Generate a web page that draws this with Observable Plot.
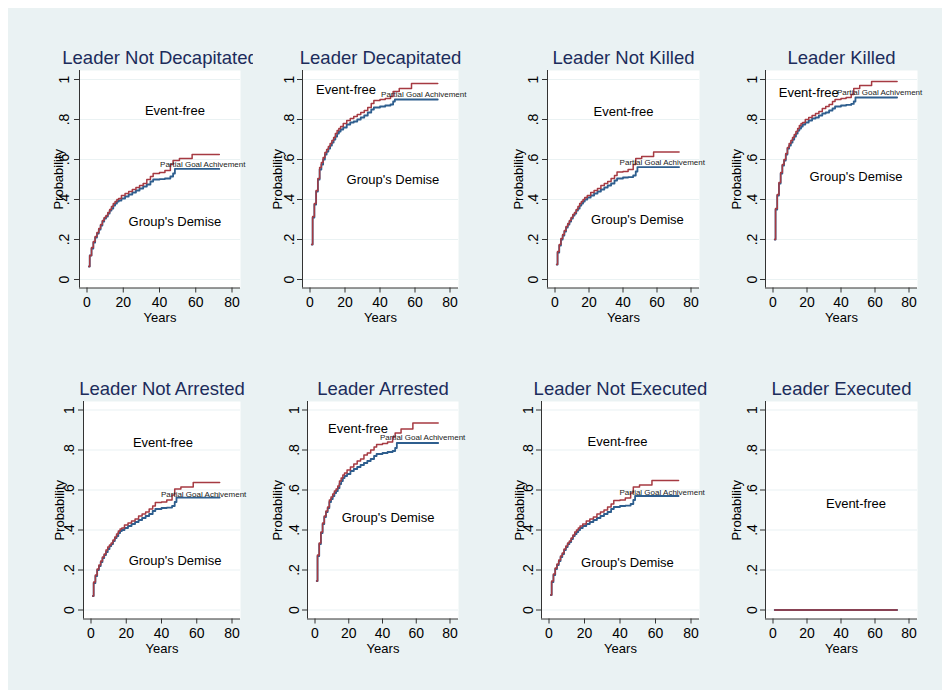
<!DOCTYPE html>
<html><head><meta charset="utf-8">
<script src="https://cdn.jsdelivr.net/npm/d3@7"></script>
<script src="https://cdn.jsdelivr.net/npm/@observablehq/plot@0.6"></script>
<style>
html,body{margin:0;padding:0;background:#fff;width:948px;height:694px;overflow:hidden;}
#bg{position:absolute;left:8px;top:8px;width:934px;height:682px;background:#eaf2f3;}
.panel{position:absolute;overflow:hidden;}
.panel svg{max-width:none;}
</style></head><body>
<div id="bg"></div>
<div id="chart"></div>
<script>
// ---------- data ----------
const titles = ["Leader Not Decapitated","Leader Decapitated","Leader Not Killed","Leader Killed",
                "Leader Not Arrested","Leader Arrested","Leader Not Executed","Leader Executed"];
const xTicks = [0,20,40,60,80];
const yTicks = [0,0.2,0.4,0.6,0.8,1];
const yTickLabels = ["0",".2",".4",".6",".8","1"];
const years = [1,1.5,2.5,3.5,4.5,5.5,6.5,7.5,8.5,9.5,10.5,11.5,12.5,13.5,14.5,15.5,16.5,17.5,19,21,23,25,27,29,31,33,35,36.5,40,43,46,47.5,48.5,51,58,73];

// cumulative probability of group's demise (blue) and demise + partial goal achievement (red)
const demiseNotDecap = [.065,.12,.155,.185,.21,.23,.25,.27,.29,.305,.315,.33,.345,.355,.37,.38,.39,.395,.405,.415,.425,.435,.445,.455,.465,.475,.49,.50,.502,.505,.515,.53,.553,.553,.553,.553];
const totalNotDecap  = [.065,.12,.16,.19,.215,.235,.255,.275,.295,.31,.32,.335,.35,.365,.38,.39,.40,.405,.42,.43,.44,.45,.46,.47,.48,.50,.515,.53,.535,.545,.575,.595,.595,.605,.625,.625];
const demiseDecap = [.175,.31,.375,.44,.50,.55,.575,.60,.625,.64,.655,.67,.685,.70,.715,.73,.74,.75,.76,.775,.785,.79,.80,.81,.82,.835,.85,.86,.865,.87,.875,.89,.90,.90,.90,.90];
const totalDecap  = [.175,.315,.38,.445,.505,.56,.585,.61,.635,.65,.665,.68,.695,.71,.73,.745,.755,.765,.78,.795,.805,.815,.825,.835,.845,.86,.88,.895,.90,.905,.915,.94,.94,.955,.98,.98];
const demiseNotKilled = [.075,.135,.17,.20,.22,.24,.26,.275,.29,.305,.32,.33,.345,.355,.37,.38,.39,.40,.41,.42,.43,.44,.45,.46,.47,.48,.495,.505,.51,.512,.52,.54,.562,.562,.562,.562];
const totalNotKilled  = [.075,.14,.175,.205,.225,.245,.265,.28,.295,.31,.325,.335,.35,.365,.38,.39,.40,.41,.42,.435,.445,.455,.47,.48,.49,.505,.52,.537,.54,.55,.575,.605,.605,.615,.637,.637];
const demiseKilled = [.20,.35,.42,.48,.53,.57,.595,.625,.655,.67,.685,.70,.715,.73,.745,.755,.765,.775,.785,.795,.805,.81,.82,.83,.835,.845,.855,.865,.87,.873,.878,.89,.91,.91,.91,.91];
const totalKilled  = [.20,.355,.425,.485,.535,.575,.60,.63,.66,.68,.695,.71,.725,.74,.755,.77,.78,.785,.80,.81,.82,.83,.84,.855,.865,.875,.89,.90,.905,.91,.925,.955,.955,.97,.99,.99];
const demiseNotArrested = [.07,.135,.17,.20,.22,.24,.26,.275,.29,.305,.32,.33,.345,.36,.37,.385,.395,.40,.41,.42,.43,.44,.45,.46,.47,.48,.495,.505,.51,.512,.52,.54,.562,.562,.562,.562];
const totalNotArrested  = [.07,.14,.175,.205,.225,.245,.265,.28,.30,.315,.325,.335,.35,.365,.38,.395,.405,.41,.425,.435,.445,.455,.47,.48,.49,.505,.52,.537,.54,.55,.575,.605,.605,.615,.637,.637];
const demiseArrested = [.145,.27,.33,.385,.43,.465,.49,.51,.54,.555,.57,.585,.595,.61,.63,.645,.66,.67,.68,.695,.705,.715,.725,.735,.745,.755,.77,.78,.785,.79,.795,.81,.835,.835,.835,.835];
const totalArrested  = [.145,.275,.335,.39,.435,.47,.495,.515,.55,.565,.58,.595,.605,.62,.645,.66,.675,.685,.70,.715,.73,.745,.755,.775,.785,.80,.815,.828,.832,.84,.865,.885,.885,.905,.935,.935];
const demiseNotExecuted = [.075,.14,.175,.205,.225,.245,.265,.28,.30,.315,.33,.34,.355,.37,.38,.39,.40,.41,.42,.43,.44,.45,.46,.47,.48,.49,.505,.515,.52,.522,.53,.55,.57,.57,.57,.57];
const totalNotExecuted  = [.075,.145,.18,.21,.23,.25,.27,.285,.305,.32,.335,.345,.36,.375,.39,.40,.41,.42,.43,.445,.455,.465,.48,.49,.50,.515,.53,.548,.55,.56,.585,.615,.615,.625,.648,.648];
const demiseExecuted = [0,0,0,0,0,0,0,0,0,0,0,0,0,0,0,0,0,0,0,0,0,0,0,0,0,0,0,0,0,0,0,0,0,0,0,0];
const totalExecuted  = [0,0,0,0,0,0,0,0,0,0,0,0,0,0,0,0,0,0,0,0,0,0,0,0,0,0,0,0,0,0,0,0,0,0,0,0];

const demiseSeries = [demiseNotDecap,demiseDecap,demiseNotKilled,demiseKilled,demiseNotArrested,demiseArrested,demiseNotExecuted,demiseExecuted];
const totalSeries  = [totalNotDecap,totalDecap,totalNotKilled,totalKilled,totalNotArrested,totalArrested,totalNotExecuted,totalExecuted];

// annotation anchors (years, probability)
const eventFreeAt = [[48.5,.845],[20.6,.95],[40.3,.84],[21,.935],[40.8,.835],[25.5,.905],[38.6,.84],[48.8,.53]];
const demiseAt    = [[48.5,.29],[47.4,.5],[48.5,.30],[48.8,.515],[47.7,.245],[43.3,.46],[44.2,.235],null];
const partialAt   = [[40.3,.575],[40.6,.925],[38,.585],[37.6,.935],[39.7,.58],[38.5,.865],[39.7,.59],null];

// ---------- layout (pixels) ----------
const rows = [{wt:70, wb:287.5, y1:79, y0:279},{wt:400.5, wb:618, y1:409, y0:609}];
const cols = [
  {wl:79, wr:240, prob:16.5, tick:10.5},
  {wl:302, wr:458, prob:21, tick:8.5},
  {wl:547, wr:699, prob:25, tick:9.5},
  {wl:765, wr:917, prob:24.5, tick:8.5},
  {wl:83, wr:240, prob:20, tick:9.5},
  {wl:307, wr:458, prob:26, tick:9},
  {wl:541, wr:699, prob:18, tick:9},
  {wl:765, wr:917, prob:24.5, tick:8.5}
];
const FONT = "'Liberation Sans', Arial, Helvetica, sans-serif";
const NAVY = "#1c2c5b", BLUE = "#2e5e8e", RED = "#a63a42", GRID = "#eaf2f3", AXIS = "#333";

const chart = document.getElementById("chart");
titles.forEach((title, i) => {
  const c = cols[i], r = rows[i < 4 ? 0 : 1];
  const mL = 60, mR = 13, mT = 45, mB = 45;
  const W = c.wr - c.wl + mL + mR, H = r.wb - r.wt + mT + mB;
  const x0 = c.wl + 7.5, x80 = c.wr - 8.5;
  const kx = (x80 - x0) / 80;
  const xmin = -(x0 - c.wl) / kx, xmax = 80 + (c.wr - x80) / kx;
  const ky = r.y0 - r.y1;
  const ymin = -(r.wb - r.y0) / ky, ymax = 1 + (r.y1 - r.wt) / ky;

  const demise = years.map((t, j) => ({t, v: demiseSeries[i][j]}));
  const total = years.map((t, j) => ({t, v: totalSeries[i][j]}));

  const marks = [
    Plot.frame({fill: "white", stroke: "none"}),
    Plot.ruleY(yTicks, {stroke: GRID, strokeWidth: 1.2}),
    Plot.ruleX([xmin], {stroke: AXIS, strokeWidth: 1}),
    Plot.ruleY([ymin], {stroke: AXIS, strokeWidth: 1}),
    Plot.axisX({ticks: xTicks, tickSize: 5, tickPadding: 4, fontSize: 14, label: null, stroke: AXIS}),
    Plot.axisY({ticks: yTicks, tickSize: 5, tickFormat: () => "", label: null, stroke: AXIS}),
    Plot.text(yTicks, {y: d => d, text: yTickLabels, frameAnchor: "left", dx: -c.tick, rotate: -90,
      textAnchor: "middle", lineAnchor: "bottom", fontSize: 14, fill: "#000"}),
    Plot.text(["Probability"], {frameAnchor: "left", dx: -c.prob, rotate: -90, textAnchor: "middle",
      lineAnchor: "bottom", fontSize: 13, fill: "#000"}),
    Plot.text(["Years"], {frameAnchor: "bottom", dy: 33.5, textAnchor: "middle", lineAnchor: "bottom",
      fontSize: 13, fill: "#000"}),
    Plot.text([title], {frameAnchor: "top", dy: -6.5, textAnchor: "middle", lineAnchor: "bottom",
      fontSize: 18.5, fill: NAVY}),
    Plot.line(demise, {x: "t", y: "v", curve: "step-after", stroke: BLUE, strokeWidth: 1.8}),
    Plot.line(total, {x: "t", y: "v", curve: "step-after", stroke: RED, strokeWidth: 1.5}),
    Plot.text([eventFreeAt[i]], {x: d => d[0], y: d => d[1], text: () => "Event-free", fontSize: 13,
      textAnchor: "middle", lineAnchor: "middle", fill: "#000"})
  ];
  if (demiseAt[i]) marks.push(Plot.text([demiseAt[i]], {x: d => d[0], y: d => d[1], text: () => "Group's Demise",
      fontSize: 13, textAnchor: "middle", lineAnchor: "middle", fill: "#000"}));
  if (partialAt[i]) marks.push(Plot.text([partialAt[i]], {x: d => d[0], y: d => d[1], text: () => "Partial Goal Achivement",
      fontSize: 8, textAnchor: "start", lineAnchor: "middle", fill: "#222"}));

  const svg = Plot.plot({
    width: W, height: H,
    marginLeft: mL, marginRight: mR, marginTop: mT, marginBottom: mB,
    x: {domain: [xmin, xmax]},
    y: {domain: [ymin, ymax]},
    style: {background: "none", fontFamily: FONT, color: "#000", overflow: "hidden", maxWidth: "none"},
    marks
  });
  const wrap = document.createElement("div");
  wrap.className = "panel";
  wrap.style.left = (c.wl - mL) + "px";
  wrap.style.top = (r.wt - mT) + "px";
  wrap.style.width = W + "px";
  wrap.style.height = H + "px";
  wrap.appendChild(svg);
  chart.appendChild(wrap);
});
</script>
</body></html>
